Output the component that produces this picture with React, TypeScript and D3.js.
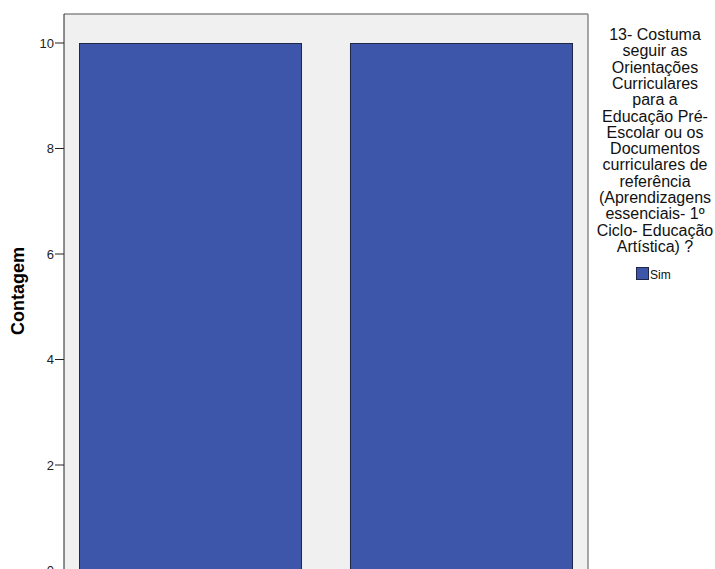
import React from "react";
import * as d3 from "d3";

const categories = ["Grupo 1", "Grupo 2"];
const values = [10, 10];
const yTicks = [0, 2, 4, 6, 8, 10];
const legendTitle = [
  "13- Costuma",
  "seguir as",
  "Orientações",
  "Curriculares",
  "para a",
  "Educação Pré-",
  "Escolar ou os",
  "Documentos",
  "curriculares de",
  "referência",
  "(Aprendizagens",
  "essenciais- 1º",
  "Ciclo- Educação",
  "Artística) ?",
];
const legendItems = ["Sim"];

const W = 715;
const H = 569;
const plotL = 64;
const plotR = 588;
const plotT = 14;
const plotB = 580;
const font = "'Liberation Sans', Arial, sans-serif";
const barFill = "#3D56A9";
const barStroke = "#1f2747";

export default function App() {
  const x = d3
    .scaleBand<string>()
    .domain(categories)
    .range([plotL, plotR])
    .paddingInner(0.177)
    .paddingOuter(0.0554);
  const y = d3.scaleLinear().domain([0, 10]).range([570.5, 43]);

  return (
    <svg
      width={W}
      height={H}
      style={{ position: "absolute", left: 0, top: 0, background: "#fff" }}
    >
      <rect x={plotL} y={plotT} width={plotR - plotL} height={plotB - plotT} fill="#F0F0F0" />
      <line x1={plotL} x2={plotR} y1={plotT} y2={plotT} stroke="#8a8a8a" strokeWidth={1.5} />
      <line x1={plotR} x2={plotR} y1={plotT} y2={plotB} stroke="#8a8a8a" strokeWidth={1.5} />
      {categories.map((c, i) => (
        <rect
          key={c}
          x={x(c)! + 0.5}
          y={y(values[i]) + 0.5}
          width={x.bandwidth() - 1}
          height={y(0) - y(values[i])}
          fill={barFill}
          stroke={barStroke}
          strokeWidth={1}
        />
      ))}
      <line x1={plotL} x2={plotL} y1={plotT} y2={plotB} stroke="#222" strokeWidth={1} />
      {yTicks.map((t) => (
        <g key={t}>
          <line x1={55} x2={plotL} y1={y(t)} y2={y(t)} stroke="#222" strokeWidth={1} />
          <text
            x={54}
            y={y(t)}
            dy="0.36em"
            textAnchor="end"
            fontFamily={font}
            fontSize={13}
            fill="#222"
          >
            {t}
          </text>
        </g>
      ))}
      <text
        transform={`translate(24,291) rotate(-90)`}
        textAnchor="middle"
        fontFamily={font}
        fontSize={18}
        fontWeight="bold"
        fill="#000"
      >
        Contagem
      </text>
      <text textAnchor="middle" fontFamily={font} fontSize={16} fill="#111">
        {legendTitle.map((l, i) => (
          <tspan key={i} x={655} y={40 + i * 16.3}>
            {l}
          </tspan>
        ))}
      </text>
      {legendItems.map((s, i) => (
        <g key={s}>
          <rect x={636.5} y={267.5 + i * 16} width={12} height={12} fill={barFill} stroke={barStroke} />
          <text x={650} y={279 + i * 16} fontFamily={font} fontSize={12} fill="#111">
            {s}
          </text>
        </g>
      ))}
    </svg>
  );
}
